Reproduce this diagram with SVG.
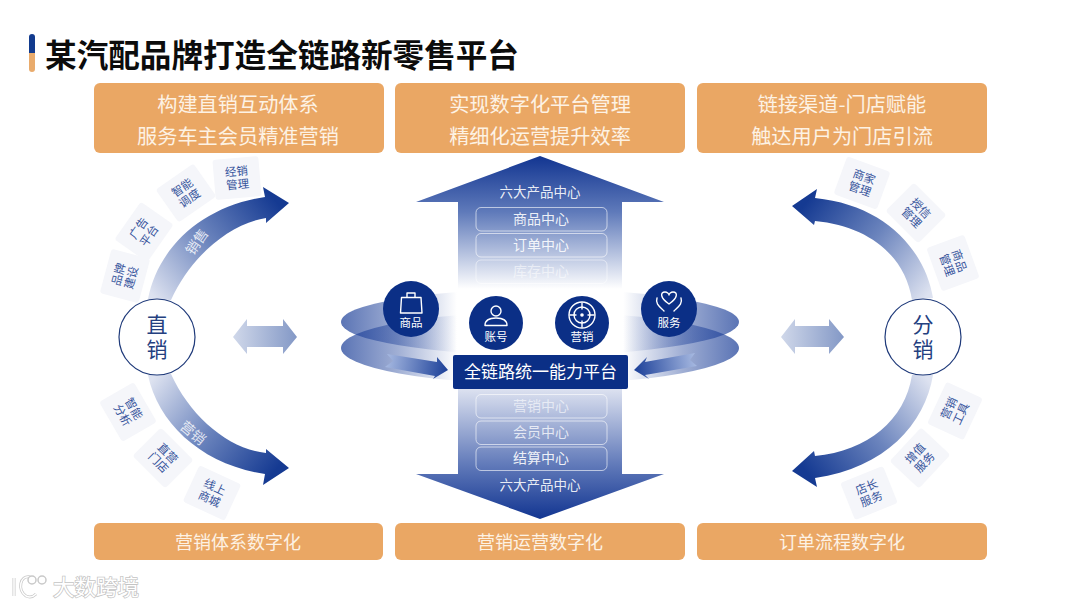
<svg xmlns="http://www.w3.org/2000/svg" width="1080" height="608" viewBox="0 0 1080 608">
<style>
text{font-family:"Noto Sans CJK SC","Noto Sans",sans-serif;text-anchor:middle}
.banner{fill:#eaa764}
.bt{fill:#fdf2e4;font-size:20.2px}
.bb{fill:#fdf2e4;font-size:18px}
.tile rect{fill:#f5f6fa}
.tile text{fill:#36549c;font-size:11.5px}
.hub{fill:#fff;stroke:#1f3a7a;stroke-width:1.2}
.hubt{fill:#24407f;font-size:21px;writing-mode:vertical-rl;letter-spacing:4px}
.pill{fill:none;stroke:#fff;stroke-width:1;stroke-opacity:.6}
.pt{fill:#fff;fill-opacity:.9;font-size:14px}
.pt2{fill:#fff;fill-opacity:.9;font-size:13.5px}
.badge{fill:#0b2f86}
.ic{fill:none;stroke:#fff;stroke-width:1.4;stroke-linecap:round;stroke-linejoin:round}
.bl{fill:#fff;font-size:11.5px}
.al{fill:#fff;fill-opacity:.8;font-size:14px}
</style>
<defs>
<linearGradient id="gu" x1="0" y1="0" x2="0" y2="1"><stop offset="0" stop-color="#123591"/><stop offset=".4" stop-color="#5f7aba"/><stop offset=".95" stop-color="#fff"/></linearGradient>
<linearGradient id="gd" x1="0" y1="0" x2="0" y2="1"><stop offset="0" stop-color="#e3e7f3"/><stop offset=".6" stop-color="#6079b9"/><stop offset="1" stop-color="#123591"/></linearGradient>
<linearGradient id="a1" gradientUnits="userSpaceOnUse" x1="155" y1="298" x2="275" y2="200"><stop offset="0" stop-color="#dde2f0"/><stop offset=".5" stop-color="#6b84bd"/><stop offset="1" stop-color="#153a92"/></linearGradient>
<linearGradient id="a2" gradientUnits="userSpaceOnUse" x1="155" y1="376" x2="275" y2="471"><stop offset="0" stop-color="#dde2f0"/><stop offset=".5" stop-color="#6b84bd"/><stop offset="1" stop-color="#153a92"/></linearGradient>
<linearGradient id="a3" gradientUnits="userSpaceOnUse" x1="925" y1="298" x2="805" y2="204"><stop offset="0" stop-color="#dde2f0"/><stop offset=".5" stop-color="#6b84bd"/><stop offset="1" stop-color="#153a92"/></linearGradient>
<linearGradient id="a4" gradientUnits="userSpaceOnUse" x1="925" y1="376" x2="805" y2="470"><stop offset="0" stop-color="#dde2f0"/><stop offset=".5" stop-color="#6b84bd"/><stop offset="1" stop-color="#153a92"/></linearGradient>
<linearGradient id="dbl" x1="0" y1="0" x2="1" y2="0"><stop offset="0" stop-color="#d0d8ea"/><stop offset="1" stop-color="#8398c6"/></linearGradient>
<linearGradient id="el" gradientUnits="userSpaceOnUse" x1="342" y1="0" x2="738" y2="0"><stop offset="0" stop-color="#1d4099" stop-opacity=".72"/><stop offset=".14" stop-color="#1d4099" stop-opacity=".42"/><stop offset=".29" stop-color="#1d4099" stop-opacity="0"/><stop offset=".71" stop-color="#1d4099" stop-opacity="0"/><stop offset=".86" stop-color="#1d4099" stop-opacity=".42"/><stop offset="1" stop-color="#1d4099" stop-opacity=".72"/></linearGradient>
<linearGradient id="sl" gradientUnits="userSpaceOnUse" x1="385" y1="360" x2="448" y2="370"><stop offset="0" stop-color="#a9bbe2"/><stop offset="1" stop-color="#1b3f98"/></linearGradient>
<linearGradient id="sr" gradientUnits="userSpaceOnUse" x1="697" y1="360" x2="634" y2="370"><stop offset="0" stop-color="#a9bbe2"/><stop offset="1" stop-color="#1b3f98"/></linearGradient>
</defs>
<rect width="1080" height="608" fill="#fff"/>
<g id="title">
<path d="M29,53V37a3,3 0 0 1 6,0V53Z" fill="#123b8e"/>
<path d="M29,53H35V69a3,3 0 0 1 -6,0Z" fill="#e9ab6c"/>
<text x="282" y="67" style="font-size:31.6px;font-weight:700;fill:#0c0c0c">某汽配品牌打造全链路新零售平台</text>
</g>
<g id="banner-top-left"><rect class="banner" x="94" y="83" width="290" height="70" rx="6"/><text class="bt" x="238" y="112">构建直销互动体系</text><text class="bt" x="238" y="144">服务车主会员精准营销</text></g>
<g id="banner-top-center"><rect class="banner" x="395" y="83" width="290" height="70" rx="6"/><text class="bt" x="540" y="112">实现数字化平台管理</text><text class="bt" x="540" y="144">精细化运营提升效率</text></g>
<g id="banner-top-right"><rect class="banner" x="697" y="83" width="290" height="70" rx="6"/><text class="bt" x="842" y="112">链接渠道-门店赋能</text><text class="bt" x="842" y="144">触达用户为门店引流</text></g>
<g id="banner-bottom-left"><rect class="banner" x="94" y="523" width="289" height="37" rx="6"/><text class="bb" x="238" y="549">营销体系数字化</text></g>
<g id="banner-bottom-center"><rect class="banner" x="395" y="523" width="290" height="37" rx="6"/><text class="bb" x="540" y="549">营销运营数字化</text></g>
<g id="banner-bottom-right"><rect class="banner" x="697" y="523" width="290" height="37" rx="6"/><text class="bb" x="842" y="549">订单流程数字化</text></g>

<g id="connectors">
<path fill="url(#a1)" d="M148,299C158,247 203,206 265,197L263,187L289,203L266,223L266,218C228,224 190,258 171,300Z"/>
<path fill="url(#a2)" d="M148,375C158,424 203,465 265,474L263,485L289,468L266,449L266,453C228,449 190,416 171,374Z"/>
<path fill="url(#a3)" d="M933,298C925,250 885,205 815,198L817,189L792,206L814,225L815,221C868,226 905,255 912,300Z"/>
<path fill="url(#a4)" d="M933,375C925,424 885,468 815,478L817,487L792,471L814,451L815,456C868,451 905,420 912,375Z"/>
<path fill="url(#dbl)" d="M233,337L247,319V326H283V319L297,337L283,354V347H247V354Z"/>
<path fill="url(#dbl)" d="M781,337L795,319V326H829V319L844,337L829,354V347H795V354Z"/>
</g>

<g id="side-labels">
<text class="al" transform="translate(197,242) rotate(-55)" y="5">销售</text>
<text class="al" transform="translate(193,433) rotate(40)" y="5">营销</text>
</g>

<g id="tile-jingxiao" class="tile" transform="translate(237,178) rotate(-5)"><rect x="-23" y="-20" width="46" height="40" rx="3"/><text y="-2.5">经销</text><text y="10.5">管理</text></g>
<g id="tile-zhineng-diaodu" class="tile" transform="translate(186,193) rotate(-35)"><rect x="-23" y="-20" width="46" height="40" rx="3"/><text y="-2.5">智能</text><text y="10.5">调度</text></g>
<g id="tile-guanggao" class="tile" transform="translate(144,232) rotate(-55)"><rect x="-23" y="-20" width="46" height="40" rx="3"/><text y="-2.5">广告</text><text y="10.5">平台</text></g>
<g id="tile-pinpai" class="tile" transform="translate(125,276) rotate(-75)"><rect x="-23" y="-20" width="46" height="40" rx="3"/><text y="-2.5">品牌</text><text y="10.5">建设</text></g>
<g id="tile-fenxi" class="tile" transform="translate(128,412) rotate(60)"><rect x="-23" y="-20" width="46" height="40" rx="3"/><text y="-2.5">智能</text><text y="10.5">分析</text></g>
<g id="tile-zhiying" class="tile" transform="translate(163,458) rotate(45)"><rect x="-23" y="-20" width="46" height="40" rx="3"/><text y="-2.5">直营</text><text y="10.5">门店</text></g>
<g id="tile-xianshang" class="tile" transform="translate(212,493) rotate(25)"><rect x="-23" y="-20" width="46" height="40" rx="3"/><text y="-2.5">线上</text><text y="10.5">商城</text></g>
<g id="tile-shangjia" class="tile" transform="translate(862,183) rotate(20)"><rect x="-23" y="-20" width="46" height="40" rx="3"/><text y="-2.5">商家</text><text y="10.5">管理</text></g>
<g id="tile-shouxin" class="tile" transform="translate(916,213) rotate(45)"><rect x="-23" y="-20" width="46" height="40" rx="3"/><text y="-2.5">授信</text><text y="10.5">管理</text></g>
<g id="tile-shangpin" class="tile" transform="translate(953,263) rotate(70)"><rect x="-23" y="-20" width="46" height="40" rx="3"/><text y="-2.5">商品</text><text y="10.5">管理</text></g>
<g id="tile-yingxiao" class="tile" transform="translate(955,411) rotate(-65)"><rect x="-23" y="-20" width="46" height="40" rx="3"/><text y="-2.5">营销</text><text y="10.5">工具</text></g>
<g id="tile-zengzhi" class="tile" transform="translate(920,458) rotate(-47)"><rect x="-23" y="-20" width="46" height="40" rx="3"/><text y="-2.5">增值</text><text y="10.5">服务</text></g>
<g id="tile-dianzhang" class="tile" transform="translate(869,493) rotate(-22)"><rect x="-23" y="-20" width="46" height="40" rx="3"/><text y="-2.5">店长</text><text y="10.5">服务</text></g>

<g id="node-zhixiao"><circle class="hub" cx="157" cy="337" r="38"/><text class="hubt" x="157" y="339">直销</text></g>
<g id="node-fenxiao"><circle class="hub" cx="923" cy="337" r="38"/><text class="hubt" x="923" y="339">分销</text></g>

<g id="rings">
<ellipse cx="540" cy="322" rx="199" ry="33" fill="url(#el)"/>
<ellipse cx="540" cy="348" rx="199" ry="36" fill="url(#el)"/>
</g>

<g id="arrow-up">
<path fill="url(#gu)" d="M540,156L664,202H622V296H458V202H416Z"/>
<text class="pt2" x="540" y="197">六大产品中心</text>
<rect class="pill" x="476" y="207.500" width="131" height="23.500" rx="5"/><text class="pt" x="541" y="224">商品中心</text>
<rect class="pill" x="476" y="233.500" width="131" height="23.500" rx="5"/><text class="pt" x="541" y="250">订单中心</text>
<rect class="pill" x="476" y="260" width="131" height="23.500" rx="5" style="stroke-opacity:.5"/><text class="pt" x="541" y="276" style="fill-opacity:.55">库存中心</text>
</g>
<g id="arrow-down">
<path fill="url(#gd)" d="M458,385H622V474H664L540,519L416,474H458Z"/>
<rect class="pill" x="476" y="394.500" width="131" height="23.500" rx="5"/><text class="pt" x="541" y="411" style="fill-opacity:.6">营销中心</text>
<rect class="pill" x="476" y="421" width="131" height="23.500" rx="5"/><text class="pt" x="541" y="437" style="fill-opacity:.75">会员中心</text>
<rect class="pill" x="476" y="447" width="131" height="23.500" rx="5"/><text class="pt" x="541" y="463">结算中心</text>
<text class="pt2" x="540" y="490">六大产品中心</text>
</g>

<g id="small-arrows">
<path fill="url(#sl)" d="M387,354L437,362L437,357L448,370L433,379L435,376L385,367L393,361Z"/>
<path fill="url(#sr)" d="M695,353L645,362L647,357L634,370L649,379L645,375L697,366L690,360Z"/>
</g>

<g id="platform"><rect x="453" y="355" width="175" height="34" rx="2" fill="#0b2f86"/><text x="540.500" y="378" style="fill:#fff;font-size:17px">全链路统一能力平台</text></g>

<g id="badge-shangpin"><circle class="badge" cx="411" cy="309" r="28"/>
<path class="ic" d="M401.500,297.500H421L422,313H400.500ZM407,297.500V293H415V297.500"/>
<text class="bl" x="411" y="327">商品</text></g>
<g id="badge-zhanghao"><circle class="badge" cx="496" cy="323" r="27"/>
<circle class="ic" cx="496" cy="311" r="5"/><path class="ic" d="M485,325.500C485,320 490,318 496,318C502,318 507,320 507,325.500Z"/>
<text class="bl" x="496" y="341">账号</text></g>
<g id="badge-yingxiao"><circle class="badge" cx="582" cy="323" r="27"/>
<circle class="ic" cx="582" cy="315" r="13"/><circle class="ic" cx="582" cy="315" r="8"/><circle cx="582" cy="315" r="1.800" fill="#fff"/><path class="ic" d="M582,303V309M582,321V327M570,315H576M588,315H594"/>
<text class="bl" x="582" y="341">营销</text></g>
<g id="badge-fuwu"><circle class="badge" cx="669" cy="309" r="28"/>
<path class="ic" d="M669,304C660,298 660,292 665,292C667,292 669,293.500 669,295C669,293.500 671,292 673,292C678,292 678,298 669,304Z"/>
<path class="ic" d="M657,298C655,304 660,307 664,311M681,298C683,304 678,307 674,311"/>
<text class="bl" x="669" y="327">服务</text></g>

<g id="watermark">
<path d="M14,578V596M30,577C20,575 17,590 26,596C30,598 34,596 36,594" fill="none" stroke="#c9c9c9" stroke-width="3"/>
<path d="M14,578V596M30,577C20,575 17,590 26,596C30,598 34,596 36,594" fill="none" stroke="#fff" stroke-width="1.500"/>
<circle cx="32" cy="580" r="4" fill="#fff" stroke="#c9c9c9" stroke-width="1.500"/><circle cx="42" cy="580" r="4" fill="#fff" stroke="#c9c9c9" stroke-width="1.500"/>
<text x="96" y="595" style="font-size:21.500px;fill:#fff;stroke:#c4c4c4;stroke-width:1.500px;paint-order:stroke">大数跨境</text>
</g>
</svg>
